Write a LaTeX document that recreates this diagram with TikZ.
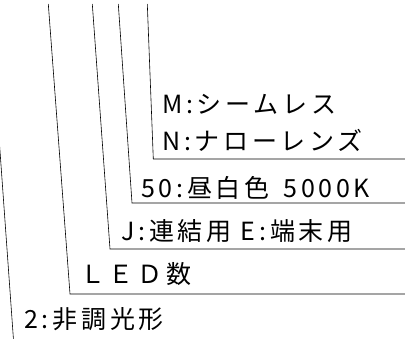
\documentclass[tikz,border=0pt]{standalone}
\usepackage{fontspec}
\newfontfamily\jpfont[LetterSpace=15]{Noto Sans CJK JP}
\usetikzlibrary{positioning}
\tikzset{
  lead/.style ={draw=black, line width=0.6pt},
  lbl/.style  ={font=\jpfont\fontsize{25}{28}\selectfont, anchor=base west,
                inner sep=0pt}
}

\begin{document}
\begin{tikzpicture}[x=1pt, y=-1pt]
\useasboundingbox (0,0) rectangle (405,338);
\clip (0,0) rectangle (405,338);

% leader lines, top ends and corners
\coordinate (topA) at (-10.5,4);   \coordinate (cnrA) at (13.5,340);
\coordinate (topB) at (48.3,4);    \coordinate (cnrB) at (70,294);
\coordinate (topC) at (92.3,4);    \coordinate (cnrC) at (110,249);
\coordinate (topD) at (118.3,4);   \coordinate (cnrD) at (132,203);
\coordinate (topE) at (147.3,4);   \coordinate (cnrE) at (153.3,159);
\foreach \n in {B,C,D,E}
  \coordinate (end\n) at (cnr\n -| 406,0);

\draw[lead] (topA) -- (cnrA);
\foreach \n in {B,C,D,E}
  \draw[lead] (top\n) -- (cnr\n) -- (end\n);

% labels
\node[lbl] (seam)  at (162,113) {M:シームレス};
\node[lbl] (narrow) at (162,150) {N:ナローレンズ};
\node[lbl] (tone)  at (141,197) {50:昼白色\hspace{0.55em}5000K};
\node[lbl] (joint) at (121,240) {J:連結用 E:端末用};
\node[lbl] (count) at (80,283)  {ＬＥＤ数};
\node[lbl] (dim)   at (24,328)  {2:非調光形};
\end{tikzpicture}
\end{document}
